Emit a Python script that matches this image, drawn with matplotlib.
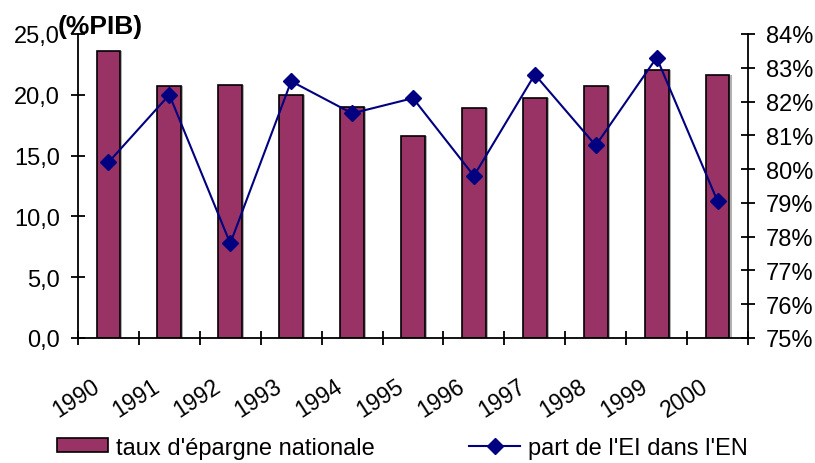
import numpy as np
import matplotlib.pyplot as plt
from matplotlib.ticker import FuncFormatter

plt.rcParams['font.family'] = ['Liberation Sans', 'DejaVu Sans']

annees = ["1990", "1991", "1992", "1993", "1994", "1995", "1996", "1997", "1998", "1999", "2000"]
epargne = [23.6, 20.7, 20.8, 20.0, 19.0, 16.6, 18.9, 19.7, 20.7, 22.0, 21.6]
part_ei = [80.2, 82.2, 77.8, 82.6, 81.65, 82.1, 79.8, 82.8, 80.7, 83.3, 79.05]

x = np.arange(len(annees))

fig = plt.figure(figsize=(8.15, 4.64), dpi=100)
ax = fig.add_axes([0.0957, 0.2694, 0.8221, 0.6552])

# bars with a small grey shadow
ax.bar(x + 0.035, epargne, width=0.39, color="#b0b0b0", zorder=1)
ax.bar(x, epargne, width=0.39, color="#993366", edgecolor="black", linewidth=1.2, zorder=2)

ax.set_xlim(-0.5, len(annees) - 0.5)
ax.set_ylim(0, 25)
ax.set_yticks(np.arange(0, 26, 5))
ax.yaxis.set_major_formatter(FuncFormatter(lambda v, p: f"{v:.1f}".replace(".", ",")))

ax.set_xticks(np.arange(-0.5, len(annees), 1))
ax.set_xticklabels([])
ax.set_xticks(x - 0.29, minor=True)
ax.set_xticklabels(annees, minor=True, rotation=33, ha="right", va="top", rotation_mode="anchor")
ax.tick_params(axis="x", which="minor", length=0, pad=26, labelsize=16.5)
ax.tick_params(axis="x", which="major", direction="inout", length=10, width=1.3)
ax.tick_params(axis="y", direction="inout", length=10, width=1.3, labelsize=17, pad=8)

for s in ["top", "right"]:
    ax.spines[s].set_visible(False)
for s in ["left", "bottom"]:
    ax.spines[s].set_linewidth(1.3)

ax2 = ax.twinx()
ax2.plot(x, part_ei, color="#000080", linewidth=1.5, marker="D", markersize=8.5, zorder=3)
ax2.set_ylim(75, 84)
ax2.set_yticks(np.arange(75, 85, 1))
ax2.yaxis.set_major_formatter(FuncFormatter(lambda v, p: f"{v:.0f}%"))
ax2.tick_params(axis="y", direction="inout", length=10, width=1.3, labelsize=17, pad=8)
for s in ["top", "left", "bottom"]:
    ax2.spines[s].set_visible(False)
ax2.spines["right"].set_linewidth(1.3)

fig.text(0.123, 0.942, "(%PIB)", fontsize=19, fontweight="bold", ha="center", va="center")

# legend
h1 = plt.Rectangle((0, 0), 1, 1, facecolor="#993366", edgecolor="black", linewidth=1.2)
h2 = plt.Line2D([], [], color="#000080", linewidth=1.5, marker="D", markersize=8.5)
fig.legend([h1, h2], ["taux d'épargne nationale", "part de l'EI dans l'EN"],
           loc="center left", bbox_to_anchor=(0.056, 0.033), ncol=2, frameon=False,
           fontsize=17, handlelength=2.15, handleheight=0.55, handletextpad=0.33,
           columnspacing=4.0, borderpad=0)

fig.savefig("out.png", dpi=100)
